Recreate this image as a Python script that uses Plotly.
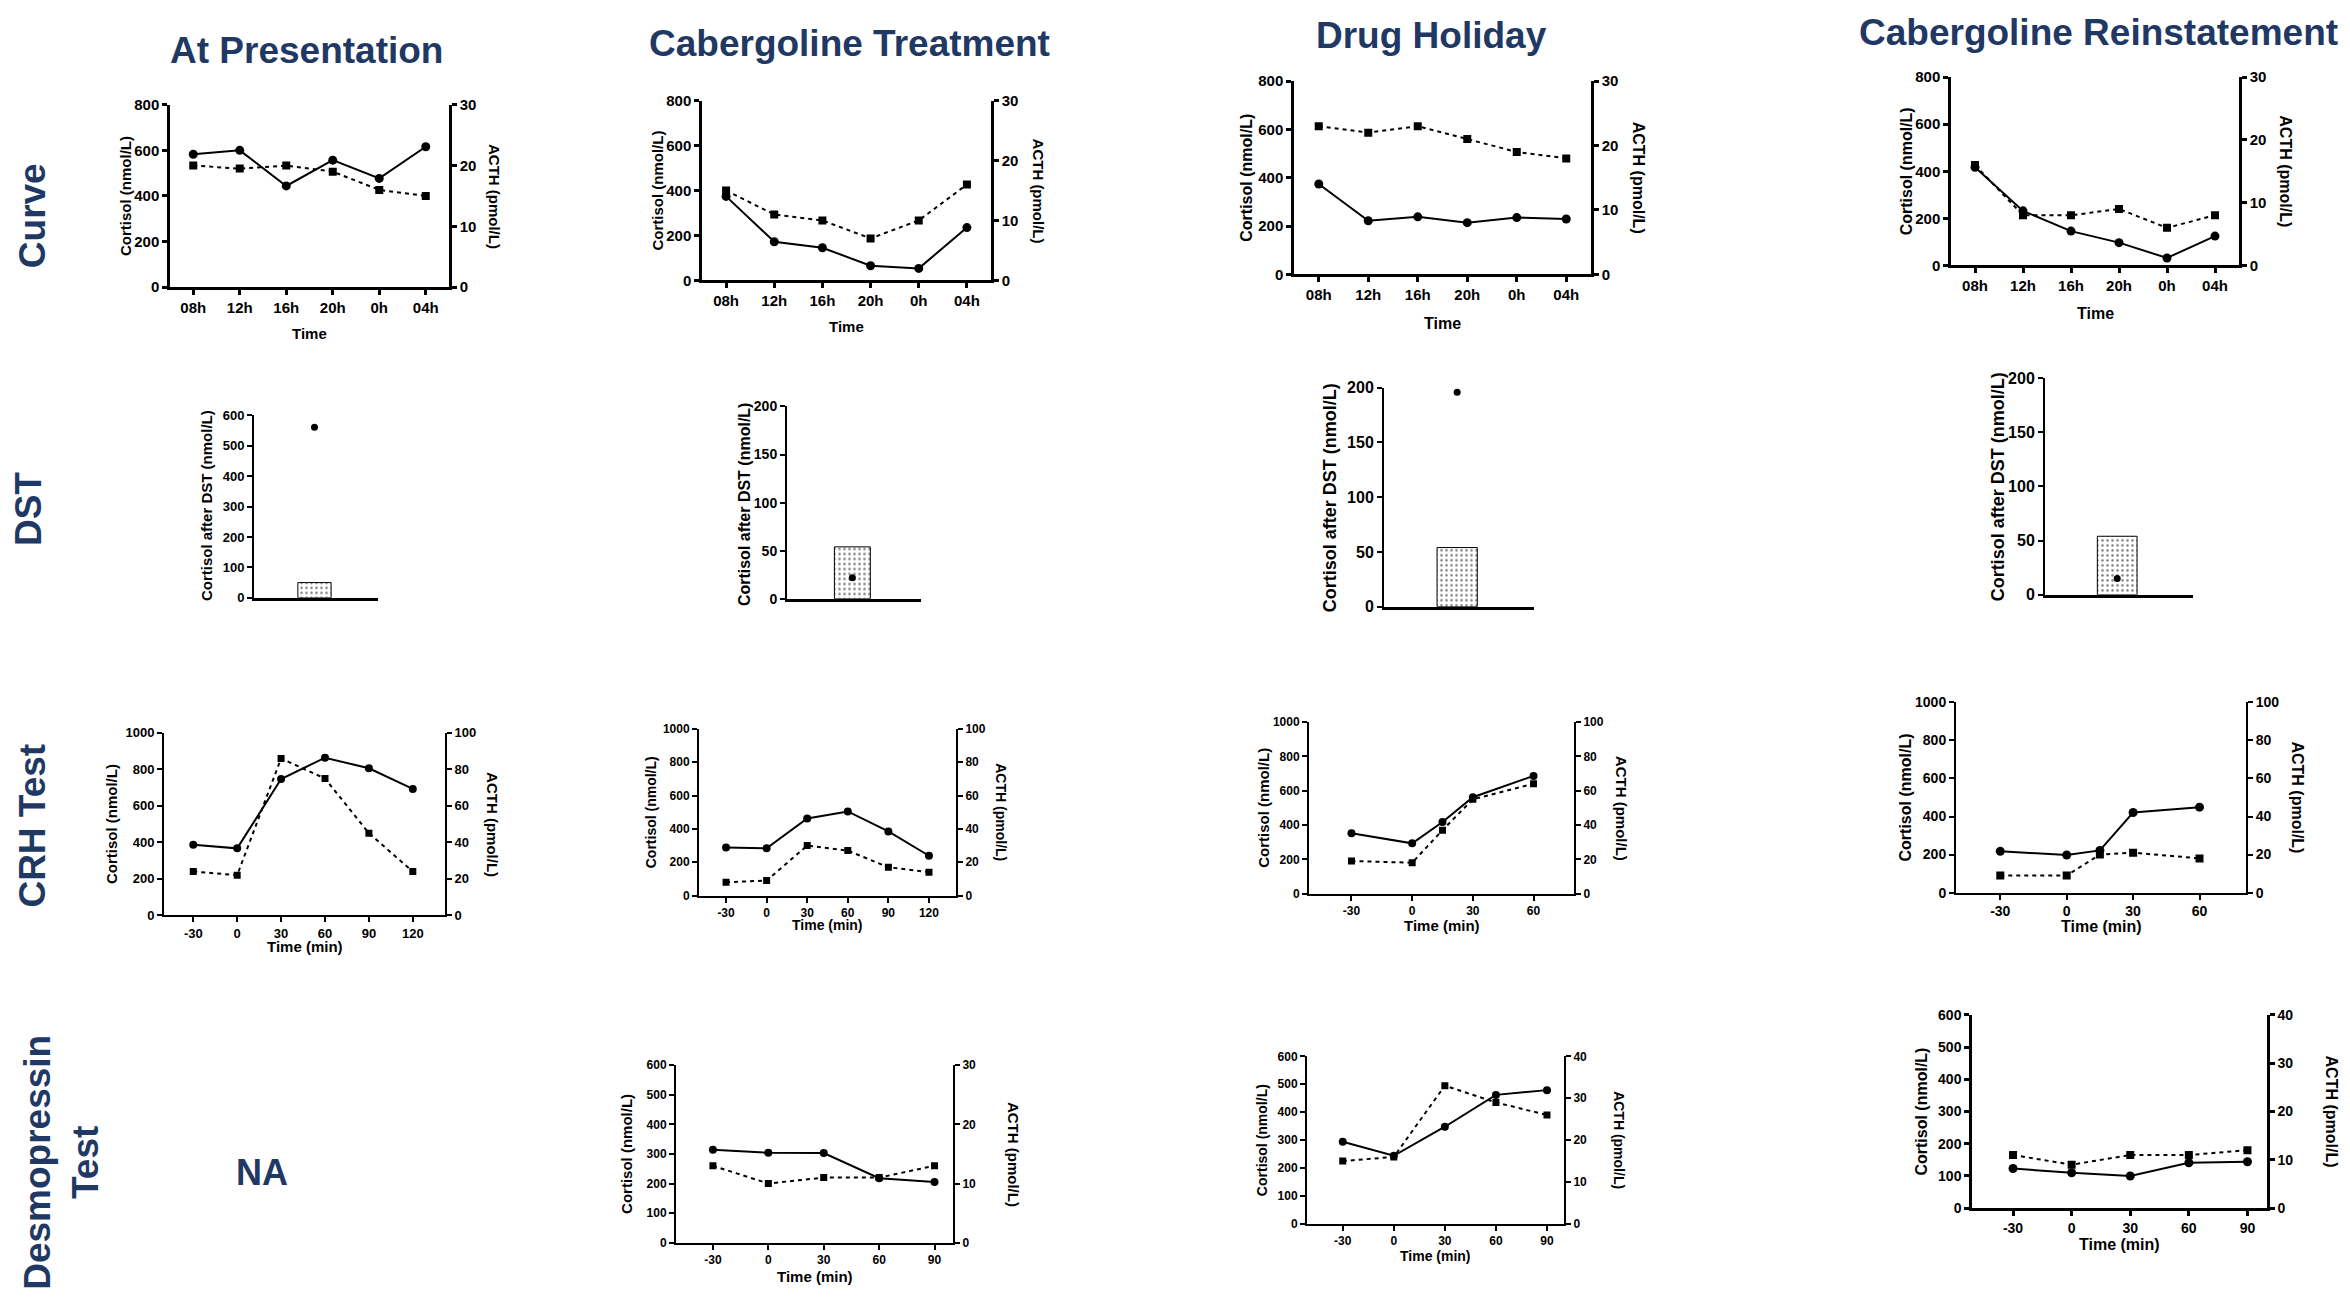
import plotly.graph_objects as go

# target picture size; the page body adds an 8px margin, so the figure is drawn 16px smaller
W, H = 2350, 1308
OFF = 8
FW, FH = W - 2 * OFF, H - 2 * OFF
NAVY = '#1f3864'
FONT = 'Liberation Sans, Arial, sans-serif'

# ---- data -------------------------------------------------------------
phases = ['At Presentation', 'Cabergoline Treatment', 'Drug Holiday', 'Cabergoline Reinstatement']
row_labels = ['Curve', 'DST', 'CRH Test', 'Desmopressin<br>Test']

curve_times = ['08h', '12h', '16h', '20h', '0h', '04h']
curve_cortisol_presentation = [583, 600, 444, 557, 477, 616]
curve_acth_presentation = [20, 19.5, 20, 19, 16, 15]
curve_cortisol_cabergoline = [374, 172, 145, 65, 53, 235]
curve_acth_cabergoline = [15, 11, 10, 7, 10, 16]
curve_cortisol_holiday = [374, 222, 238, 214, 235, 229]
curve_acth_holiday = [23, 22, 23, 21, 19, 18]
curve_cortisol_reinstatement = [417, 232, 146, 97, 32, 125]
curve_acth_reinstatement = [16, 8, 8, 9, 6, 8]

dst_bar = [50, 54, 54, 54]
dst_cortisol = [561, 22, 196, 15]

crh_times_long = [-30, 0, 30, 60, 90, 120]
crh_times_short = [-30, 0, 15, 30, 60]
crh_cortisol_presentation = [387, 367, 747, 864, 806, 693]
crh_acth_presentation = [24, 22, 86, 75, 45, 24]
crh_cortisol_cabergoline = [288, 284, 463, 505, 385, 239]
crh_acth_cabergoline = [8, 9, 30, 27, 17, 14]
crh_cortisol_holiday = [352, 293, 417, 562, 686]
crh_acth_holiday = [19, 18, 37, 55, 64]
crh_cortisol_reinstatement = [217, 198, 222, 421, 449]
crh_acth_reinstatement = [9, 9, 20, 21, 18]

ddavp_times = [-30, 0, 30, 60, 90]
ddavp_cortisol_cabergoline = [314, 304, 303, 218, 205]
ddavp_acth_cabergoline = [13, 10, 11, 11, 13]
ddavp_cortisol_holiday = [294, 244, 348, 462, 479]
ddavp_acth_holiday = [15, 16, 33, 29, 26]
ddavp_cortisol_reinstatement = [123, 110, 100, 141, 144]
ddavp_acth_reinstatement = [11, 9, 11, 11, 12]


def px(x):
    return (x - OFF) / FW


def py(y):
    return 1 - (y - OFF) / FH


fig = go.Figure()
layout = {}
annotations = []
counter = {'x': 0, 'y': 0}


def axis_common(fs, lw):
    return dict(showline=True, linecolor='black', linewidth=lw, ticks='outside',
                ticklen=5, tickwidth=lw, tickcolor='black', showgrid=False, zeroline=False,
                tickfont=dict(family=FONT, size=fs, color='black', weight='bold'))


def label(text, x, y, size, angle=0, color='black'):
    annotations.append(dict(text=text, x=px(x), y=py(y), xref='paper', yref='paper',
                            showarrow=False, textangle=angle, xanchor='center', yanchor='middle',
                            font=dict(family=FONT, size=size, color=color, weight='bold')))


def dual_panel(box, xs, cort, acth, xrange, tickvals, ticktext, yr1, dt1, yr2, dt2,
               xtitle, titles, fs=15, fst=15, lw=2.5, msize=9):
    left, right, top, bottom = box
    counter['x'] += 1
    xn = counter['x']
    counter['y'] += 1
    y1 = counter['y']
    counter['y'] += 1
    y2 = counter['y']
    xa = axis_common(fs, lw)
    xa.update(domain=[px(left), px(right)], range=xrange, anchor='y%d' % y1,
              tickmode='array', tickvals=tickvals, ticktext=ticktext)
    ya = axis_common(fs, lw)
    ya.update(domain=[py(bottom), py(top)], range=yr1, dtick=dt1, anchor='x%d' % xn)
    yb = axis_common(fs, lw)
    yb.update(range=yr2, dtick=dt2, anchor='x%d' % xn, overlaying='y%d' % y1, side='right')
    layout['xaxis%d' % xn] = xa
    layout['yaxis%d' % y1] = ya
    layout['yaxis%d' % y2] = yb
    fig.add_trace(go.Scatter(x=xs, y=acth, xaxis='x%d' % xn, yaxis='y%d' % y2, mode='lines+markers',
                             line=dict(color='black', width=2, dash='4px,4px'),
                             marker=dict(symbol='square', size=msize - 1, color='black'),
                             showlegend=False))
    fig.add_trace(go.Scatter(x=xs, y=cort, xaxis='x%d' % xn, yaxis='y%d' % y1, mode='lines+markers',
                             line=dict(color='black', width=2),
                             marker=dict(symbol='circle', size=msize, color='black'),
                             showlegend=False))
    (cx, ax_, ty) = titles
    mid = (top + bottom) / 2
    label('Cortisol (nmol/L)', cx, mid, fst, angle=-90)
    label('ACTH (pmol/L)', ax_, mid, fst, angle=90)
    label(xtitle, (left + right) / 2, ty, fst)


def dst_panel(box, bar, point, yr, dt, title_pos, fs=13, fst=15):
    left, right, top, bottom = box
    counter['x'] += 1
    xn = counter['x']
    counter['y'] += 1
    y1 = counter['y']
    xa = dict(domain=[px(left), px(right)], range=[-1, 1.05], anchor='y%d' % y1, showline=True,
              linecolor='black', linewidth=2.5, showticklabels=False, ticks='', showgrid=False,
              zeroline=False)
    ya = axis_common(fs, 2)
    ya.update(domain=[py(bottom), py(top)], range=yr, dtick=dt, anchor='x%d' % xn)
    layout['xaxis%d' % xn] = xa
    layout['yaxis%d' % y1] = ya
    fig.add_trace(go.Bar(x=[0], y=[bar], width=0.55, xaxis='x%d' % xn, yaxis='y%d' % y1,
                         marker=dict(color='white', line=dict(color='black', width=1),
                                     pattern=dict(shape='.', fgcolor='black', bgcolor='white',
                                                  size=5, solidity=0.2)),
                         showlegend=False))
    fig.add_trace(go.Scatter(x=[0], y=[point], xaxis='x%d' % xn, yaxis='y%d' % y1, mode='markers',
                             marker=dict(symbol='circle', size=7, color='black'), showlegend=False))
    label('Cortisol after DST (nmol/L)', title_pos[0], title_pos[1], fst, angle=-90)


# ---- row 1: curves ---------------------------------------------------
cx = list(range(len(curve_times)))
crange = [-0.5, len(curve_times) - 0.5]
dual_panel((170, 449, 97, 282), cx, curve_cortisol_presentation, curve_acth_presentation,
           crange, cx, curve_times, [0, 800], 200, [0, 30], 10, 'Time', (126, 494, 329))
dual_panel((702, 991, 93, 275), cx, curve_cortisol_cabergoline, curve_acth_cabergoline,
           crange, cx, curve_times, [0, 800], 200, [0, 30], 10, 'Time', (658, 1038, 322))
dual_panel((1294, 1591, 73, 269), cx, curve_cortisol_holiday, curve_acth_holiday,
           crange, cx, curve_times, [0, 800], 200, [0, 30], 10, 'Time', (1247, 1638, 319),
           fst=16)
dual_panel((1951, 2239, 69, 260), cx, curve_cortisol_reinstatement, curve_acth_reinstatement,
           crange, cx, curve_times, [0, 800], 200, [0, 30], 10, 'Time', (1906, 2286, 309),
           fst=16)

# ---- row 2: DST --------------------------------------------------------
dst_panel((254, 378, 412, 597), dst_bar[0], dst_cortisol[0], [0, 600], 100, (206, 504), fs=13, fst=15)
dst_panel((787, 921, 403, 598), dst_bar[1], dst_cortisol[1], [0, 200], 50, (744, 502), fs=14, fst=16)
dst_panel((1384, 1534, 384, 606), dst_bar[2], dst_cortisol[2], [0, 200], 50, (1330, 496), fs=16, fst=18)
dst_panel((2045, 2193, 374, 594), dst_bar[3], dst_cortisol[3], [0, 200], 50, (1998, 484), fs=16, fst=18)

# ---- row 3: CRH ----------------------------------------------------------
tv = [-30, 0, 30, 60, 90, 120]
tvs = [-30, 0, 30, 60]
dual_panel((164, 445, 734, 919), crh_times_long, crh_cortisol_presentation, crh_acth_presentation,
           [-50, 142], tv, [str(t) for t in tv], [0, 1000], 200, [0, 100], 20, 'Time (min)',
           (111, 493, 951), fs=13, fst=15, lw=2, msize=8)
dual_panel((699, 956, 730, 899), crh_times_long, crh_cortisol_cabergoline, crh_acth_cabergoline,
           [-50, 140], tv, [str(t) for t in tv], [0, 1000], 200, [0, 100], 20, 'Time (min)',
           (651, 1001, 929), fs=12, fst=14, lw=2, msize=8)
dual_panel((1309, 1574, 723, 897), crh_times_short, crh_cortisol_holiday, crh_acth_holiday,
           [-51, 80], tvs, [str(t) for t in tvs], [0, 1000], 200, [0, 100], 20, 'Time (min)',
           (1264, 1621, 929), fs=12, fst=15, lw=2, msize=8)
dual_panel((1956, 2246, 703, 896), crh_times_short, crh_cortisol_reinstatement, crh_acth_reinstatement,
           [-50, 81], tvs, [str(t) for t in tvs], [0, 1000], 200, [0, 100], 20, 'Time (min)',
           (1905, 2298, 930), fs=14, fst=16, lw=2, msize=9)

# ---- row 4: desmopressin -----------------------------------------------
dv = ddavp_times
dual_panel((676, 953, 1071, 1251), dv, ddavp_cortisol_cabergoline, ddavp_acth_cabergoline,
           [-50, 100], dv, [str(t) for t in dv], [0, 600], 100, [0, 30], 10, 'Time (min)',
           (627, 1013, 1285), fs=12, fst=15, lw=2, msize=8)
dual_panel((1307, 1564, 1062, 1232), dv, ddavp_cortisol_holiday, ddavp_acth_holiday,
           [-51, 100], dv, [str(t) for t in dv], [0, 600], 100, [0, 40], 10, 'Time (min)',
           (1262, 1619, 1265), fs=12, fst=14, lw=2, msize=8)
dual_panel((1972, 2267, 1020, 1216), dv, ddavp_cortisol_reinstatement, ddavp_acth_reinstatement,
           [-51, 100], dv, [str(t) for t in dv], [0, 600], 100, [0, 40], 10, 'Time (min)',
           (1922, 2331, 1253), fs=14, fst=16, lw=2.5, msize=9)

# ---- headers -------------------------------------------------------------
for name, (hx, hy) in zip(phases, [(306, 42), (849, 35), (1431, 27), (2098, 24)]):
    label(name, hx, hy, 37, color=NAVY)
for name, (rx, ry) in zip(row_labels, [(32, 210), (28, 507), (33, 828), (62, 1170)]):
    label(name, rx, ry, 37, angle=-90, color=NAVY)
label('NA', 262, 1180, 36, color=NAVY)

fig.update_layout(width=FW, height=FH, margin=dict(l=0, r=0, t=0, b=0),
                  paper_bgcolor='white', plot_bgcolor='white', showlegend=False,
                  annotations=annotations, **layout)
fig.write_html('out.html')
